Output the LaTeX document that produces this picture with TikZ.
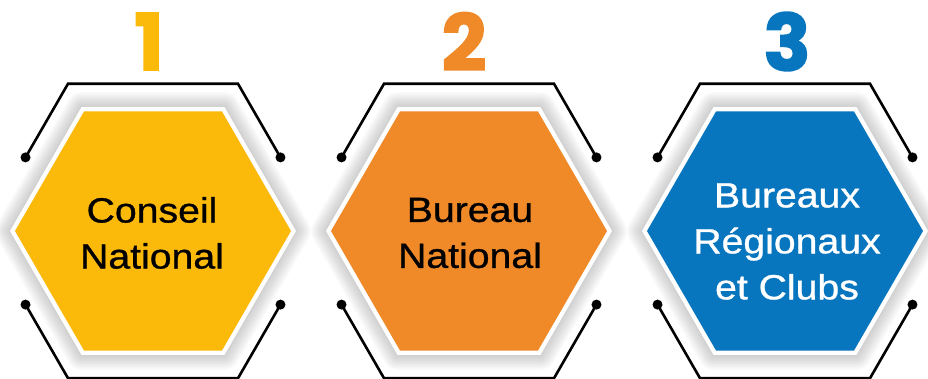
\documentclass[tikz,border=0pt]{standalone}
\usepackage{fontspec}
\setmainfont{Liberation Sans}
\newfontfamily\labelfont[FakeStretch=1.12,FakeBold=0.9]{Liberation Sans}
\newfontfamily\numfont[FakeBold=2.2]{Poppins}
\usepackage{xcolor}
\usepackage{tikz}
\usetikzlibrary{positioning}

\definecolor{hexyellow}{RGB}{251,185,10}
\definecolor{hexorange}{RGB}{240,137,40}
\definecolor{hexblue}{RGB}{8,118,190}

% flat-topped hexagon of circumradius #1 round the current origin
\newcommand{\hexpath}[1]{(0:#1) -- (60:#1) -- (120:#1) -- (180:#1) -- (240:#1) -- (300:#1) -- cycle}

\begin{document}
\begin{tikzpicture}[x=1pt,y=1pt,yscale=-1,xscale=1,
  glow/.style={draw=black,draw opacity=0.018,line join=round},
  frameline/.style={draw=black,line width=2.6,line join=miter},
  framedot/.style={fill=black},
  hexlabel/.style={inner sep=0pt,align=center,font=\labelfont\fontsize{35}{46}\selectfont},
  hexnum/.style={inner sep=0pt,font=\numfont\bfseries\fontsize{78}{78}\selectfont}]
\useasboundingbox (0,0) rectangle (928,379);

%Shape: Hexagon 1
\begin{scope}[shift={(153,231)}]
  \foreach \w in {3,6,...,30} \draw[glow,line width=\w] \hexpath{143};
  \fill[white] \hexpath{143};
  \fill[hexyellow] \hexpath{138};
  \draw[frameline] (150:147.2) -- (120:170) -- (60:170) -- (30:147.2);
  \draw[frameline] (210:147.2) -- (240:170) -- (300:170) -- (330:147.2);
  \foreach \a in {30,150,210,330} \fill[framedot] (\a:147.2) circle (5);
\end{scope}
%Shape: Hexagon 2
\begin{scope}[shift={(469,231)}]
  \foreach \w in {3,6,...,30} \draw[glow,line width=\w] \hexpath{143};
  \fill[white] \hexpath{143};
  \fill[hexorange] \hexpath{138};
  \draw[frameline] (150:147.2) -- (120:170) -- (60:170) -- (30:147.2);
  \draw[frameline] (210:147.2) -- (240:170) -- (300:170) -- (330:147.2);
  \foreach \a in {30,150,210,330} \fill[framedot] (\a:147.2) circle (5);
\end{scope}
%Shape: Hexagon 3
\begin{scope}[shift={(785,231)}]
  \foreach \w in {3,6,...,30} \draw[glow,line width=\w] \hexpath{143};
  \fill[white] \hexpath{143};
  \fill[hexblue] \hexpath{138};
  \draw[frameline] (150:147.2) -- (120:170) -- (60:170) -- (30:147.2);
  \draw[frameline] (210:147.2) -- (240:170) -- (300:170) -- (330:147.2);
  \foreach \a in {30,150,210,330} \fill[framedot] (\a:147.2) circle (5);
\end{scope}

% Number Nodes
\node[hexnum,text=hexyellow] (num1) at (149,41.5) {1};
\node[hexnum,text=hexorange] (num2) at (464,41.5) {2};
\node[hexnum,text=hexblue] (num3) at (787,41.5) {3};

% Text Nodes
\node[hexlabel,text=black] (conseil) at (152,233) {Conseil\\National};
\node[hexlabel,text=black] (bureau) at (470,233) {Bureau\\National};
\node[hexlabel,text=white] (regions) at (787,241.5) {Bureaux\\Régionaux\\et Clubs};

\end{tikzpicture}
\end{document}
